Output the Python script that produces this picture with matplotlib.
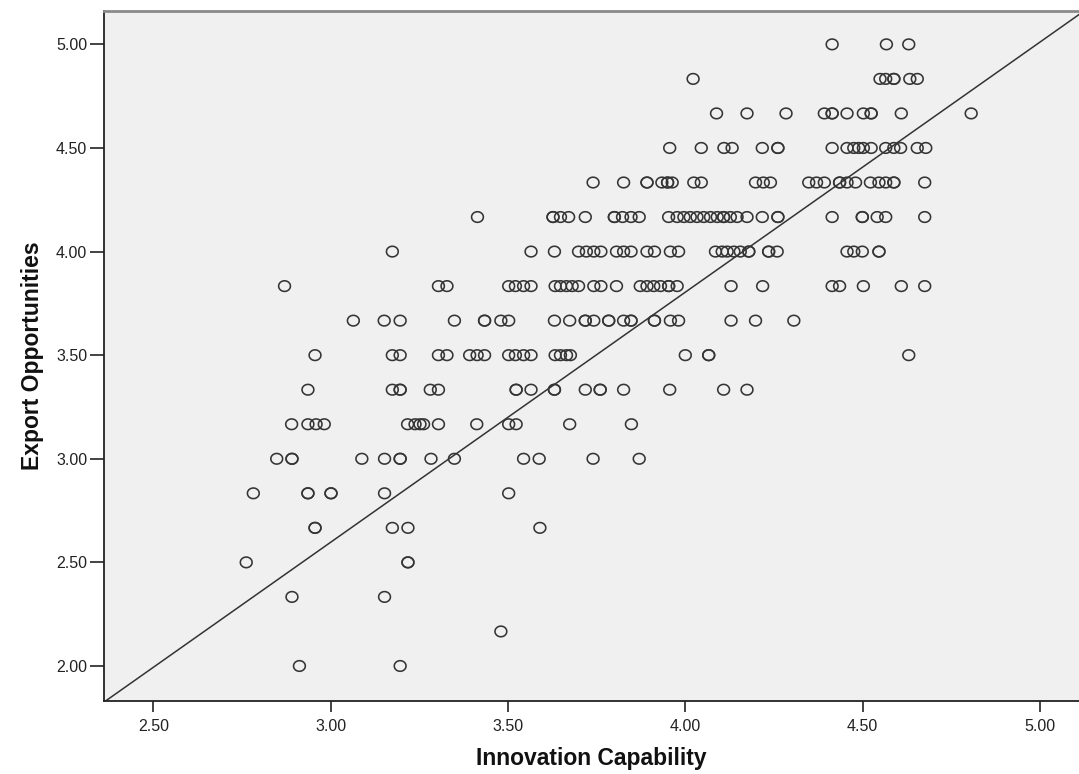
import numpy as np
import matplotlib
matplotlib.use("Agg")
from matplotlib import pyplot as plt
from matplotlib.path import Path

x_at_500 = [4.414, 4.567, 4.630]
x_at_483 = [4.022, 4.549, 4.565, 4.588, 4.588, 4.633, 4.654]
x_at_467 = [4.088, 4.174, 4.284, 4.392, 4.414, 4.414, 4.456, 4.502, 4.524, 4.524,
            4.609, 4.806]
x_at_450 = [3.956, 4.045, 4.109, 4.132, 4.217, 4.261, 4.261, 4.414, 4.456, 4.475,
            4.489, 4.502, 4.524, 4.565, 4.588, 4.607, 4.654, 4.678]
x_at_433 = [3.740, 3.826, 3.892, 3.892, 3.934, 3.950, 3.950, 3.963, 4.024, 4.045,
            4.198, 4.220, 4.240, 4.348, 4.370, 4.392, 4.435, 4.435, 4.456, 4.480,
            4.522, 4.546, 4.565, 4.588, 4.588, 4.675]
x_at_417 = [3.414, 3.627, 3.627, 3.648, 3.671, 3.718, 3.800, 3.800, 3.823, 3.847,
            3.870, 3.953, 3.977, 3.996, 4.014, 4.033, 4.052, 4.071, 4.090, 4.108,
            4.108, 4.127, 4.146, 4.174, 4.217, 4.261, 4.261, 4.414, 4.499, 4.499,
            4.541, 4.565, 4.675]
x_at_400 = [3.174, 3.565, 3.631, 3.699, 3.721, 3.742, 3.762, 3.806, 3.826, 3.847,
            3.892, 3.913, 3.958, 3.981, 4.085, 4.104, 4.118, 4.137, 4.155, 4.179,
            4.179, 4.235, 4.235, 4.259, 4.456, 4.475, 4.499, 4.546, 4.546]
x_at_383 = [2.870, 3.304, 3.328, 3.502, 3.521, 3.544, 3.565, 3.633, 3.648, 3.665,
            3.681, 3.699, 3.742, 3.762, 3.806, 3.873, 3.892, 3.911, 3.930, 3.953,
            3.953, 3.977, 4.129, 4.218, 4.414, 4.435, 4.502, 4.609, 4.675]
x_at_367 = [3.064, 3.151, 3.196, 3.349, 3.434, 3.434, 3.480, 3.502, 3.631, 3.674,
            3.718, 3.718, 3.742, 3.784, 3.784, 3.826, 3.847, 3.847, 3.913, 3.913,
            3.958, 3.981, 4.129, 4.198, 4.306]
x_at_350 = [2.956, 3.174, 3.196, 3.304, 3.328, 3.392, 3.413, 3.434, 3.502, 3.521,
            3.544, 3.565, 3.633, 3.648, 3.665, 3.676, 4.000, 4.066, 4.066, 4.630]
x_at_333 = [2.936, 3.174, 3.196, 3.196, 3.281, 3.304, 3.523, 3.523, 3.565, 3.631,
            3.631, 3.718, 3.760, 3.760, 3.826, 3.956, 4.108, 4.174]
x_at_317 = [2.890, 2.936, 2.959, 2.982, 3.217, 3.238, 3.252, 3.262, 3.304, 3.412,
            3.502, 3.523, 3.674, 3.848]
x_at_300 = [2.848, 2.891, 2.891, 3.088, 3.152, 3.196, 3.196, 3.283, 3.349, 3.544,
            3.588, 3.740, 3.870]
x_at_283 = [2.782, 2.936, 2.936, 3.001, 3.001, 3.152, 3.502]
x_at_267 = [2.956, 2.956, 3.174, 3.218, 3.590]
x_at_250 = [2.762, 3.218, 3.218]
x_at_233 = [2.891, 3.152]
x_at_217 = [3.480]
x_at_200 = [2.912, 3.196]

levels = [5.0, 29 / 6, 28 / 6, 4.5, 26 / 6, 25 / 6, 4.0, 23 / 6, 22 / 6, 3.5,
          20 / 6, 19 / 6, 3.0, 17 / 6, 16 / 6, 2.5, 14 / 6, 13 / 6, 2.0]
rows = [x_at_500, x_at_483, x_at_467, x_at_450, x_at_433, x_at_417, x_at_400,
        x_at_383, x_at_367, x_at_350, x_at_333, x_at_317, x_at_300, x_at_283,
        x_at_267, x_at_250, x_at_233, x_at_217, x_at_200]

# reference line drawn in the chart
fit_intercept = -1.024
fit_slope = 1.207

x_ticks = [2.5, 3.0, 3.5, 4.0, 4.5, 5.0]
y_ticks = [2.0, 2.5, 3.0, 3.5, 4.0, 4.5, 5.0]

innovation = np.concatenate([np.array(r) for r in rows])
export = np.concatenate([np.full(len(r), lv) for r, lv in zip(rows, levels)])

# slightly flattened open circle like the SPSS marker
t = np.linspace(0, 2 * np.pi, 61)
ellipse = Path(np.column_stack([np.cos(t), 0.9 * np.sin(t)]))

fig = plt.figure(figsize=(10.79, 7.74), dpi=100)
ax = fig.add_axes([104 / 1079, 1 - 701 / 774, 975 / 1079, 690 / 774])
ax.set_facecolor("#f0f0f0")

ax.scatter(innovation, export, marker=ellipse, s=72, facecolors="none",
           edgecolors="#353535", linewidths=1.15, zorder=3)
ax.axline((0, fit_intercept), slope=fit_slope, color="#333333", lw=1.1, zorder=2)

ax.set_xlim(2.361, 5.11)
ax.set_ylim(1.831, 5.161)
ax.set_xticks(x_ticks)
ax.set_yticks(y_ticks)
ax.set_xticklabels([f"{v:.2f}" for v in x_ticks])
ax.set_yticklabels([f"{v:.2f}" for v in y_ticks])

tick_font = ["Liberation Sans", "DejaVu Sans"]
for lab in ax.get_xticklabels() + ax.get_yticklabels():
    lab.set_family(tick_font)
    lab.set_fontsize(11.5)
    lab.set_color("#222222")
ax.tick_params(axis="x", length=8, width=1.2, pad=5, color="#222222")
ax.tick_params(axis="y", length=10, width=1.2, pad=2, color="#222222")

label_font = ["Liberation Sans Narrow", "Liberation Sans", "DejaVu Sans"]
ax.set_xlabel("Innovation Capability", family=label_font, fontweight="bold",
              fontsize=16.5, labelpad=9, color="#111111")
ax.set_ylabel("Export Opportunities", family=label_font, fontweight="bold",
              fontsize=16.5, labelpad=9, color="#111111")

ax.spines["right"].set_visible(False)
ax.spines["top"].set_color("#8a8a8a")
ax.spines["top"].set_linewidth(2)
for side in ["left", "bottom"]:
    ax.spines[side].set_color("#222222")
    ax.spines[side].set_linewidth(1.3)

fig.savefig("out.png", dpi=100)
